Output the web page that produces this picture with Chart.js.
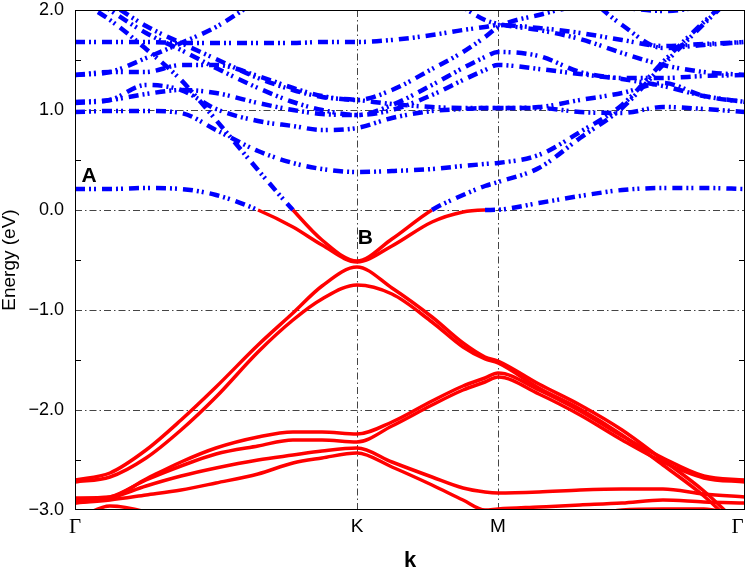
<!DOCTYPE html>
<html>
<head>
<meta charset="utf-8">
<script src="https://cdn.jsdelivr.net/npm/chart.js@4/dist/chart.umd.min.js"></script>
<style>
  html, body { margin: 0; padding: 0; background: #fff; }
  #wrap { width: 747px; height: 572px; }
</style>
</head>
<body>
<div id="wrap"><canvas id="bands" width="747" height="572"></canvas></div>
<script>
(function () {
  'use strict';

  // k-path positions (Gamma = 0, K = 1, M = 1.5, Gamma = 2.376)
  const kPoints = [0, 0.124, 0.252, 0.376, 0.5, 0.649, 0.773, 0.876, 1.0,
                   1.124, 1.266, 1.376, 1.454, 1.5,
                   1.645, 1.791, 1.94, 2.085, 2.23, 2.376];
  const kTickValues = [0, 1, 1.5, 2.376];
  const kTickLabels = ['Γ', 'K', 'M', 'Γ'];
  const energyGrid = [1, 0, -1, -2];
  const energyMinor = [1.5, 0.5, -0.5, -1.5, -2.5];

  // energies (eV) at each k point; null = not visible
  const band01 = [1.68, 1.68, 1.68, 1.67, 1.67, 1.67, 1.67, 1.68, 1.68, 1.70, 1.75, 1.80, 1.83, 1.85, 1.82, 1.77, 1.70, 1.64, 1.66, 1.68];
  const band02 = [1.35, 1.38, 1.52, 1.67, 1.83, 2.10, null, null, null, null, 2.25, 2.03, 1.90, 1.86, 1.80, 1.71, 1.57, 1.45, 1.38, 1.35];
  const band03 = [1.35, 1.38, 1.38, 1.45, 1.45, 1.34, 1.22, 1.14, 1.10, 1.20, 1.41, 1.58, 1.73, 1.83, 1.95, 2.03, 2.02, 1.99, 2.04, 2.15];
  const band04 = [1.08, 1.10, 1.16, 1.20, 1.17, 1.07, 1.00, 0.96, 0.95, 1.05, 1.25, 1.42, 1.53, 1.58, 1.54, 1.38, 1.31, 1.24, 1.14, 1.08];
  const band05 = [1.07, 1.10, 1.25, 1.20, 1.01, 0.89, 0.84, 0.80, 0.82, 0.92, 0.99, 1.01, 1.02, 1.02, 1.02, 0.98, 0.97, 1.03, 1.01, 0.98];
  const band06 = [0.98, 0.99, 0.99, 0.97, 0.80, 0.59, 0.47, 0.41, 0.38, 0.39, 0.41, 0.44, 0.46, 0.47, 0.55, 0.78, 1.05, 1.48, 1.88, 2.25];
  const band07 = [0.21, 0.21, 0.22, 0.21, 0.15, 0.00, -0.17, -0.35, -0.52, -0.36, -0.12, -0.02, 0.00, 0.003, 0.07, 0.14, 0.20, 0.22, 0.22, 0.21];
  const band08 = [2.12, 1.90, 1.61, 1.30, 0.90, 0.40, 0.00, -0.30, -0.51, -0.29, 0.00, 0.15, 0.24, 0.28, 0.42, 0.72, 1.02, 1.45, 1.86, 2.25];
  const band09 = [2.25, 2.00, 1.77, 1.60, 1.42, 1.22, 1.08, 1.00, 0.95, 1.00, 1.15, 1.30, 1.40, 1.45, 1.41, 1.36, 1.32, 1.32, 1.34, 1.35];
  const band10 = [2.30, 2.07, 1.84, 1.67, 1.51, 1.32, 1.20, 1.13, 1.10, 1.06, 1.03, 1.02, 1.02, 1.02, 1.03, 1.10, 1.17, 1.27, 1.14, 1.08];
  const band11 = [null, null, null, null, null, null, null, null, null, null, null, null, null, null, null, 2.20, 1.85, 1.62, 1.65, 1.68];
  const band12 = [-2.70, -2.63, -2.40, -2.10, -1.77, -1.35, -1.03, -0.76, -0.57, -0.78, -1.07, -1.33, -1.47, -1.51, -1.74, -1.95, -2.20, -2.50, -2.81, -3.20];
  const band13 = [-2.72, -2.67, -2.48, -2.20, -1.87, -1.42, -1.10, -0.89, -0.75, -0.84, -1.12, -1.37, -1.49, -1.53, -1.78, -1.99, -2.25, -2.55, -2.86, -3.25];
  const band14 = [-2.88, -2.87, -2.69, -2.52, -2.38, -2.27, -2.22, -2.22, -2.24, -2.12, -1.91, -1.76, -1.68, -1.63, -1.80, -2.01, -2.26, -2.48, -2.66, -2.70];
  const band15 = [-2.90, -2.87, -2.70, -2.56, -2.44, -2.36, -2.30, -2.30, -2.32, -2.16, -1.95, -1.80, -1.72, -1.67, -1.84, -2.05, -2.30, -2.52, -2.68, -2.72];
  const band16 = [-2.93, -2.88, -2.76, -2.66, -2.58, -2.50, -2.45, -2.41, -2.38, -2.52, -2.67, -2.78, -2.82, -2.83, -2.82, -2.80, -2.79, -2.79, -2.84, -2.87];
  const band17 = [-2.93, -2.90, -2.85, -2.80, -2.73, -2.64, -2.53, -2.48, -2.43, -2.57, -2.75, -2.90, -3.00, -2.99, -2.97, -2.95, -2.93, -2.90, -2.92, -2.93];
  const band18 = [-3.10, -2.96, -3.02, -3.15, null, null, null, null, null, null, null, null, null, null, null, -3.10, -3.00, -2.99, -2.99, -3.08];

  const bands = [band01, band02, band03, band04, band05, band06, band07, band08, band09,
                 band10, band11, band12, band13, band14, band15, band16, band17, band18];

  const BLUE = '#0000ff';
  const RED = '#ff0000';
  const DASH = [10, 4, 2, 3, 2, 6];
  const SANS = '"Liberation Sans", Arial, Helvetica, sans-serif';
  const SERIF = '"Liberation Serif", "Times New Roman", serif';

  // segment above the Fermi level -> blue dash-dot-dot, below -> solid red
  function above(ctx) {
    return (ctx.p0.parsed.y + ctx.p1.parsed.y) / 2 >= 0;
  }

  const datasets = bands.map(function (b) {
    return {
      data: kPoints.map(function (k, i) { return { x: k, y: b[i] }; }),
      borderColor: RED,
      borderWidth: 3.5,
      borderCapStyle: 'butt',
      pointRadius: 0,
      cubicInterpolationMode: 'monotone',
      spanGaps: false,
      clip: 0,
      segment: {
        borderColor: ctx => above(ctx) ? BLUE : RED,
        borderWidth: ctx => above(ctx) ? 4.5 : 3.5,
        borderDash: ctx => above(ctx) ? DASH : []
      }
    };
  });

  // dash-dot grid, frame, minor ticks and the A / B labels
  const decorations = {
    id: 'decorations',
    beforeDatasetsDraw(chart) {
      const ctx = chart.ctx;
      const a = chart.chartArea;
      const xs = chart.scales.x, ys = chart.scales.y;
      ctx.save();
      ctx.strokeStyle = '#444';
      ctx.lineWidth = 1;
      ctx.setLineDash([7, 3, 1.5, 3]);
      energyGrid.forEach(function (e) {
        const py = Math.round(ys.getPixelForValue(e)) + 0.5;
        ctx.beginPath(); ctx.moveTo(a.left, py); ctx.lineTo(a.right, py); ctx.stroke();
      });
      [1, 1.5].forEach(function (k) {
        const px = Math.round(xs.getPixelForValue(k)) + 0.5;
        ctx.beginPath(); ctx.moveTo(px, a.top); ctx.lineTo(px, a.bottom); ctx.stroke();
      });
      ctx.restore();
    },
    afterDatasetsDraw(chart) {
      const ctx = chart.ctx;
      const a = chart.chartArea;
      const xs = chart.scales.x, ys = chart.scales.y;
      ctx.save();
      ctx.strokeStyle = '#000';
      ctx.lineWidth = 1;
      ctx.setLineDash([]);
      ctx.strokeRect(a.left + 0.5, a.top + 0.5, a.right - a.left - 1, a.bottom - a.top - 1);
      energyMinor.forEach(function (e) {
        const py = Math.round(ys.getPixelForValue(e)) + 0.5;
        ctx.beginPath();
        ctx.moveTo(a.left, py); ctx.lineTo(a.left + 6, py);
        ctx.moveTo(a.right - 6, py); ctx.lineTo(a.right, py);
        ctx.stroke();
      });
      ctx.fillStyle = '#000';
      ctx.font = 'bold 21px ' + SANS;
      ctx.textAlign = 'center';
      ctx.textBaseline = 'middle';
      ctx.fillText('A', xs.getPixelForValue(0.05), ys.getPixelForValue(0.34));
      ctx.fillText('B', xs.getPixelForValue(1.03), ys.getPixelForValue(-0.28));
      ctx.restore();
    }
  };

  new Chart(document.getElementById('bands'), {
    type: 'line',
    data: { datasets: datasets },
    options: {
      responsive: false,
      animation: false,
      events: [],
      layout: { padding: { top: 10, right: 2, left: 0, bottom: 0 } },
      plugins: {
        legend: { display: false },
        tooltip: { enabled: false }
      },
      scales: {
        x: {
          type: 'linear',
          min: 0,
          max: 2.376,
          grid: { display: false, drawTicks: false },
          border: { display: false },
          afterBuildTicks: function (scale) {
            scale.ticks = kTickValues.map(function (v) { return { value: v }; });
          },
          afterFit: function (scale) {
            scale.height = 62;
            scale.paddingLeft = 0;
            scale.paddingRight = 0;
          },
          ticks: {
            autoSkip: false,
            maxRotation: 0,
            padding: 5,
            color: '#000',
            font: function (c) {
              return (c.index === 0 || c.index === 3)
                ? { family: SERIF, size: 21 }
                : { family: SANS, size: 19 };
            },
            callback: function (value, index) {
              // last label sits against the right edge, nudge it inwards
              return index === 3 ? kTickLabels[index] + '\u2002\u2009' : kTickLabels[index];
            }
          },
          title: {
            display: true,
            text: 'k',
            color: '#000',
            font: { family: SANS, size: 22, weight: 'bold', lineHeight: 1 },
            padding: { top: 0, bottom: 0 }
          }
        },
        y: {
          min: -3,
          max: 2,
          grid: { display: false, drawTicks: false },
          border: { display: false },
          afterFit: function (scale) {
            scale.width = 75;
            scale.paddingTop = 0;
            scale.paddingBottom = 0;
          },
          ticks: {
            stepSize: 1,
            padding: 11,
            color: '#000',
            font: { family: SANS, size: 18 },
            callback: function (value) {
              return (value < 0 ? '\u2212' : '') + Math.abs(value).toFixed(1);
            }
          },
          title: {
            display: true,
            text: 'Energy (eV)',
            color: '#000',
            font: { family: SANS, size: 19, lineHeight: 1 },
            padding: { top: 0, bottom: 0 }
          }
        }
      }
    },
    plugins: [decorations]
  });
})();
</script>
</body>
</html>
